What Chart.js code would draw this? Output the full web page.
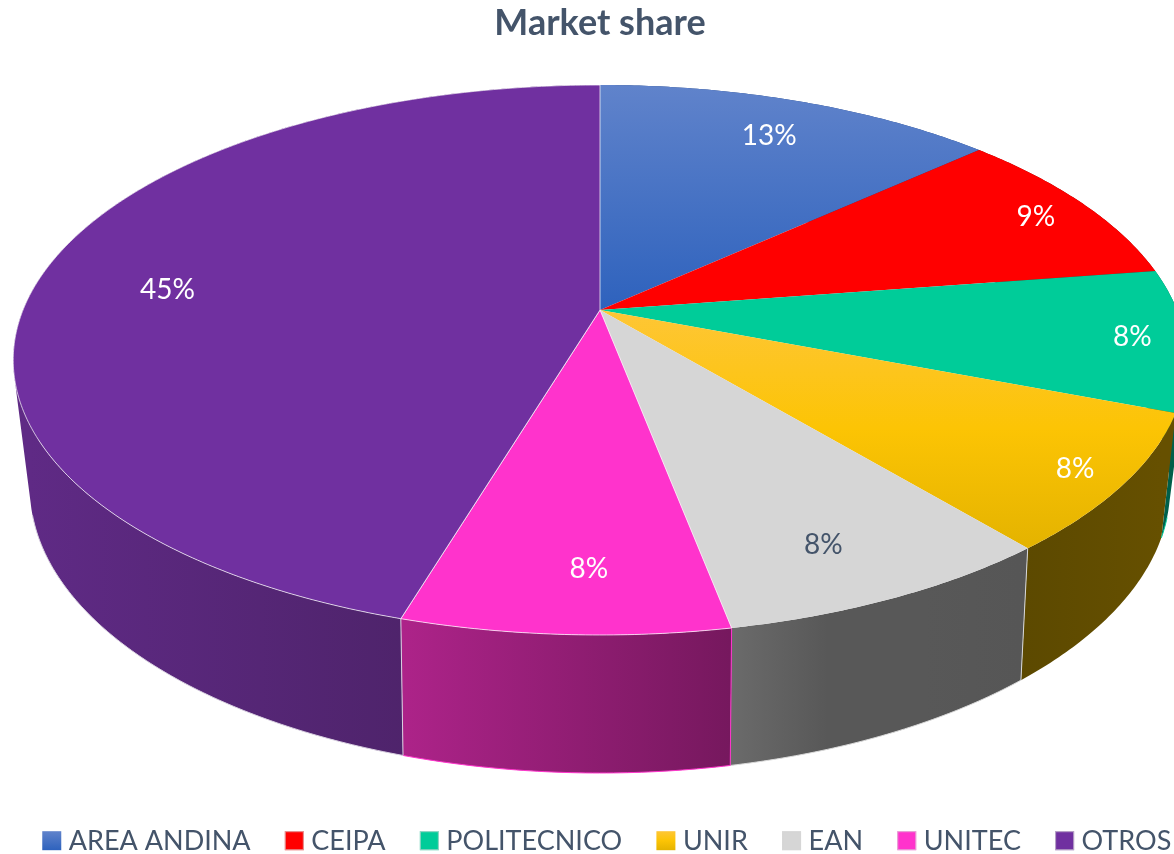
<!DOCTYPE html>
<html>
<head>
<meta charset="utf-8">
<title>Market share</title>
<script src="https://cdn.jsdelivr.net/npm/chart.js@4"></script>
<style>
  html, body { margin: 0; padding: 0; background: #fff; }
  #wrap { width: 1174px; height: 854px; overflow: hidden; }
</style>
</head>
<body>
<div id="wrap"><canvas id="chart" width="1174" height="854"></canvas></div>
<script>
// Values
const categories = ['AREA ANDINA', 'CEIPA', 'POLITECNICO', 'UNIR', 'EAN', 'UNITEC', 'OTROS'];
const shares = [13.2, 9.4, 8.3, 8.1, 8.0, 7.6, 45.4];

// Styles for each slice
const topStops = [
    ['#6083cb', '#2e62bd'],
    ['#ff0000', '#ff0000'],
    ['#00cc99', '#00cc99'],
    ['#fec636', '#fcc404', '#e4b300'],
    ['#d6d6d6', '#d6d6d6'],
    ['#ff33cc', '#ff33cc'],
    ['#7030a0', '#7030a0']
];
const wallStops = [
    ['#1c3f80', '#1c3f80'],
    ['#800000', '#800000'],
    ['#006650', '#005f4a'],
    ['#5c4900', '#665000'],
    ['#6b6b6b', '#585858', '#585858', '#565656'],
    ['#ad2389', '#76185e'],
    ['#5f2a85', '#46205e']
];
const swatchColors = ['#2e62bd', '#ff0000', '#00cc99', '#fcc404', '#d6d6d6', '#ff33cc', '#7030a0'];
const wallEdges = [null, null, '#00cc99', null, '#d8d8d8', '#ff33cc', '#d8d0e0'];
const labelColors = ['#fff', '#fff', '#fff', '#fff', '#44546a', '#fff', '#fff'];
const labelNudges = [[5, -2], [44, -7], [66, 3], [66, 23], [-3, 13], [16, 10], [15, 10]];

// The pie is tilted in perspective, so top and bottom faces get their own mapping
const topFace = { cx: 600, cy: 310, a: 577, b: 265.9, p: 0.1818 };
const bottomFace = { cx: 600, cy: 431, a: 558.6, b: 273.6, p: 0.2 };
const visibleRimY = 515; // the bottom rim is hidden behind the walls above this line

function project(face, angle, r) {
    const u = r * Math.cos(angle), v = r * Math.sin(angle);
    const d = 1 - face.p * v;
    return [face.cx + face.a * u / d, face.cy + face.b * v / d];
}

function arcPoints(face, start, end) {
    const pts = [];
    const steps = Math.max(2, Math.ceil((end - start) / 0.01));
    for (let i = 0; i <= steps; i++) {
        pts.push(project(face, start + (end - start) * i / steps, 1));
    }
    return pts;
}

function tracePath(ctx, pts) {
    ctx.beginPath();
    pts.forEach((p, i) => i ? ctx.lineTo(p[0], p[1]) : ctx.moveTo(p[0], p[1]));
}

function makeGradient(ctx, x0, y0, x1, y1, stops) {
    const g = ctx.createLinearGradient(x0, y0, x1, y1);
    stops.forEach((c, i) => g.addColorStop(i / (stops.length - 1), c));
    return g;
}

// One subpath per wall segment, all wound the same way, so the silhouette gets filled too
function traceWall(ctx, top, bottom) {
    ctx.beginPath();
    for (let i = 0; i < top.length - 1; i++) {
        const q = [top[i], top[i + 1], bottom[i + 1], bottom[i]];
        let area = 0;
        q.forEach((p, k) => {
            const n = q[(k + 1) % 4];
            area += p[0] * n[1] - n[0] * p[1];
        });
        if (area < 0) q.reverse();
        q.forEach((p, k) => k ? ctx.lineTo(p[0], p[1]) : ctx.moveTo(p[0], p[1]));
        ctx.closePath();
    }
}

// Replaces the flat arcs with the 3D version, using the angles Chart.js computed
const pie3d = {
    id: 'pie3d',
    beforeDatasetDraw(chart, args) {
        const ctx = chart.ctx;
        const arcs = chart.getDatasetMeta(args.index).data;
        ctx.save();

        // walls, back to front
        const order = arcs.map((arc, i) => i).sort((m, n) =>
            Math.sin((arcs[m].startAngle + arcs[m].endAngle) / 2) - Math.sin((arcs[n].startAngle + arcs[n].endAngle) / 2));
        order.forEach((i) => {
            const top = arcPoints(topFace, arcs[i].startAngle, arcs[i].endAngle);
            const bottom = arcPoints(bottomFace, arcs[i].startAngle, arcs[i].endAngle);
            const xs = bottom.map((p) => p[0]);
            traceWall(ctx, top, bottom);
            ctx.fillStyle = makeGradient(ctx, Math.min(...xs), 0, Math.max(...xs), 0, wallStops[i]);
            ctx.fill();
        });
        arcs.forEach((arc, i) => {
            if (!wallEdges[i]) return;
            const bottom = arcPoints(bottomFace, arc.startAngle, arc.endAngle);
            ctx.strokeStyle = wallEdges[i];
            ctx.lineWidth = 1;
            tracePath(ctx, bottom.filter((p) => p[1] > visibleRimY));
            ctx.stroke();
            if (i !== 2) {
                tracePath(ctx, [project(topFace, arc.startAngle, 1), bottom[0]]);
                ctx.stroke();
            }
        });

        // top face
        arcs.forEach((arc, i) => {
            const rim = arcPoints(topFace, arc.startAngle, arc.endAngle);
            const pts = [[topFace.cx, topFace.cy]].concat(rim);
            const ys = pts.map((p) => p[1]);
            tracePath(ctx, pts);
            ctx.closePath();
            ctx.fillStyle = makeGradient(ctx, 0, Math.min(...ys), 0, Math.max(...ys), topStops[i]);
            ctx.fill();
            if (i === 5 || i === 6) {
                ctx.strokeStyle = 'rgba(255,255,255,0.7)';
                ctx.lineWidth = 1;
                ctx.stroke();
            }
        });

        // percent labels
        ctx.font = '28px Lato';
        ctx.textAlign = 'center';
        ctx.textBaseline = 'middle';
        const total = shares.reduce((s, v) => s + v, 0);
        arcs.forEach((arc, i) => {
            const pos = project(topFace, (arc.startAngle + arc.endAngle) / 2, 0.8);
            ctx.fillStyle = labelColors[i];
            ctx.fillText(Math.round(shares[i] / total * 100) + '%', pos[0] + labelNudges[i][0], pos[1] + labelNudges[i][1]);
        });

        ctx.restore();
        return false;
    },
    afterDraw(chart) {
        // legend swatches, larger than the box Chart.js reserves
        const ctx = chart.ctx;
        chart.legend.legendHitBoxes.forEach((box, i) => {
            ctx.fillStyle = makeGradient(ctx, 0, box.top + 3, 0, box.top + 22, topStops[i]);
            ctx.fillRect(box.left, box.top + 3, 19, 19);
            if (i !== 0 && i !== 3) {
                ctx.strokeStyle = 'rgba(215,215,215,0.7)';
                ctx.lineWidth = 1;
                ctx.strokeRect(box.left + 0.5, box.top + 3.5, 18, 18);
            }
        });
    }
};

new Chart(document.getElementById('chart'), {
    type: 'pie',
    data: {
        labels: categories,
        datasets: [{ data: shares, backgroundColor: swatchColors, borderWidth: 0 }]
    },
    plugins: [pie3d],
    options: {
        responsive: false,
        animation: false,
        layout: { padding: { left: -5.5, right: -31.5, bottom: -11.2 } },
        plugins: {
            tooltip: { enabled: false },
            title: {
                display: true,
                text: 'Market share',
                color: '#44546a',
                font: { family: 'Lato', size: 36, weight: 'bold' },
                padding: { top: 2, bottom: 0 }
            },
            legend: {
                position: 'bottom',
                align: 'end',
                labels: {
                    boxWidth: 13,
                    boxHeight: 13,
                    padding: 34.2,
                    font: { family: 'Lato', size: 27 },
                    generateLabels(chart) {
                        return categories.map((name, i) => ({
                            text: name,
                            fillStyle: 'rgba(0,0,0,0)',
                            strokeStyle: 'rgba(0,0,0,0)',
                            fontColor: '#44546a',
                            lineWidth: 0,
                            index: i
                        }));
                    }
                }
            }
        }
    }
});
</script>
</body>
</html>
